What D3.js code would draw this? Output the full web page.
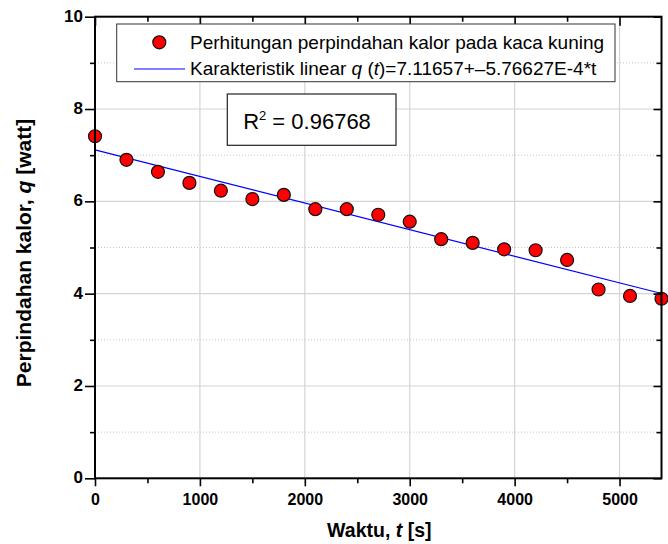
<!DOCTYPE html>
<html>
<head>
<meta charset="utf-8">
<script src="https://cdn.jsdelivr.net/npm/d3@7"></script>
<style>
  body { margin: 0; background: #fff; }
  svg { display: block; font-family: 'Liberation Sans', Arial, sans-serif; }
</style>
</head>
<body>
<script>
// waktu (s) dan perpindahan kalor (watt)
const times = [0, 300, 600, 900, 1200, 1500, 1800, 2100, 2400, 2700, 3000, 3300, 3600, 3900, 4200, 4500, 4800, 5100, 5400]
const heat = [7.41, 6.9, 6.64, 6.4, 6.23, 6.05, 6.14, 5.83, 5.83, 5.71, 5.56, 5.18, 5.1, 4.96, 4.94, 4.73, 4.09, 3.95, 3.89]

const fitA = 7.11657
const fitB = -5.76627E-4
const r2 = '0.96768'

const xMajor = [0, 1000, 2000, 3000, 4000, 5000]
const xMinor = [500, 1500, 2500, 3500, 4500]
const yMajor = [0, 2, 4, 6, 8, 10]
const yMinor = [1, 3, 5, 7, 9]

const W = 668
const H = 544
const pLeft = 95, pRight = 661.5, pTop = 16.7, pBottom = 478.3

const svg = d3.select('body').append('svg')
  .attr('width', W)
  .attr('height', H)

const x = d3.scaleLinear().domain([0, 5400]).range([pLeft, pRight])
const y = d3.scaleLinear().domain([0, 10]).range([pBottom, pTop])

// grid
const grid = svg.append('g')
grid.selectAll('.gx')
  .data(xMajor.filter(d => d > 0))
  .enter().append('line')
    .attr('x1', d => x(d)).attr('x2', d => x(d))
    .attr('y1', pTop).attr('y2', pBottom)
    .attr('stroke', '#d4d4d4').attr('stroke-width', 1.2)
grid.selectAll('.gy')
  .data(yMajor.filter(d => d > 0 && d < 10))
  .enter().append('line')
    .attr('x1', pLeft).attr('x2', pRight)
    .attr('y1', d => y(d)).attr('y2', d => y(d))
    .attr('stroke', '#d4d4d4').attr('stroke-width', 1.2)
grid.selectAll('.gym')
  .data(yMinor)
  .enter().append('line')
    .attr('x1', pLeft).attr('x2', pRight)
    .attr('y1', d => y(d)).attr('y2', d => y(d))
    .attr('stroke', '#c4c4c4').attr('stroke-width', 1)
    .attr('stroke-dasharray', '1,2')

// garis fit linear
const fitLine = d3.line()
  .x(d => x(d))
  .y(d => y(fitA + fitB * d))
svg.append('path')
  .datum([0, 5400])
  .attr('d', fitLine)
  .attr('fill', 'none')
  .attr('stroke', '#0000ff')
  .attr('stroke-width', 1.2)

// titik data
svg.append('g').selectAll('circle')
  .data(times)
  .enter().append('circle')
    .attr('cx', d => x(d))
    .attr('cy', (d, i) => y(heat[i]))
    .attr('r', 6.5)
    .attr('fill', '#ff0000')
    .attr('stroke', '#111')
    .attr('stroke-width', 1.2)

// axes
const axB = svg.append('g').attr('transform', 'translate(0,' + pBottom + ')')
axB.call(d3.axisBottom(x).tickValues(xMajor).tickSize(8).tickFormat(d3.format('d')))
axB.append('g').call(d3.axisBottom(x).tickValues(xMinor).tickSize(5).tickFormat(''))
axB.selectAll('text')
  .attr('y', 26.7).attr('dy', 0)
  .attr('font-size', 16).attr('font-weight', 'bold').attr('fill', '#000')

const axL = svg.append('g').attr('transform', 'translate(' + pLeft + ',0)')
axL.call(d3.axisLeft(y).tickValues(yMajor).tickSize(10))
axL.append('g').call(d3.axisLeft(y).tickValues(yMinor).tickSize(5).tickFormat(''))
axL.selectAll('text')
  .attr('x', -12).attr('dy', 4.5)
  .attr('font-size', 17).attr('font-weight', 'bold').attr('fill', '#000')

const axT = svg.append('g').attr('transform', 'translate(0,' + pTop + ')')
axT.call(d3.axisTop(x).tickValues(xMajor).tickSize(-9).tickFormat(''))
axT.append('g').call(d3.axisTop(x).tickValues(xMinor).tickSize(-5).tickFormat(''))

const axR = svg.append('g').attr('transform', 'translate(' + pRight + ',0)')
axR.call(d3.axisRight(y).tickValues(yMajor).tickSize(-8).tickFormat(''))
axR.append('g').call(d3.axisRight(y).tickValues(yMinor).tickSize(-5).tickFormat(''))

svg.selectAll('.domain').remove()
svg.selectAll('.tick line').attr('stroke', '#000').attr('stroke-width', 1.6)

svg.append('rect')
  .attr('x', pLeft).attr('y', pTop)
  .attr('width', pRight - pLeft).attr('height', pBottom - pTop)
  .attr('fill', 'none').attr('stroke', '#000').attr('stroke-width', 2)

// legend
const lg = svg.append('g')
lg.append('rect')
  .attr('x', 116.7).attr('y', 24)
  .attr('width', 498.3).attr('height', 57.7)
  .attr('fill', '#fff').attr('stroke', '#333').attr('stroke-width', 1)
lg.append('circle')
  .attr('cx', 159.3).attr('cy', 42.3).attr('r', 6.5)
  .attr('fill', '#ff0000').attr('stroke', '#111').attr('stroke-width', 1.2)
lg.append('text')
  .attr('x', 190).attr('y', 48.5)
  .attr('font-size', 19)
  .text('Perhitungan perpindahan kalor pada kaca kuning')
lg.append('line')
  .attr('x1', 134).attr('x2', 185).attr('y1', 69).attr('y2', 69)
  .attr('stroke', '#0000ff').attr('stroke-width', 1.2)
const t2 = lg.append('text')
  .attr('x', 190).attr('y', 75)
  .attr('font-size', 19)
t2.append('tspan').text('Karakteristik linear ')
t2.append('tspan').attr('font-style', 'italic').text('q')
t2.append('tspan').text(' (')
t2.append('tspan').attr('font-style', 'italic').text('t')
t2.append('tspan').text(')=' + fitA + '+–' + (-fitB * 1e4).toFixed(5) + 'E-4*t')

// kotak R^2
svg.append('rect')
  .attr('x', 227.3).attr('y', 94)
  .attr('width', 168.7).attr('height', 51.3)
  .attr('fill', '#fff').attr('stroke', '#222').attr('stroke-width', 1.2)
const rt = svg.append('text')
  .attr('x', 307).attr('y', 128.7)
  .attr('text-anchor', 'middle')
  .attr('font-size', 22)
rt.append('tspan').text('R')
rt.append('tspan').attr('font-size', 13).attr('dy', -9).text('2')
rt.append('tspan').attr('dy', 9).text(' = ' + r2)

// judul sumbu
const xt = svg.append('text')
  .attr('x', 379.3).attr('y', 536.7)
  .attr('text-anchor', 'middle')
  .attr('font-size', 19.5).attr('font-weight', 'bold')
xt.append('tspan').text('Waktu, ')
xt.append('tspan').attr('font-style', 'italic').text('t')
xt.append('tspan').text(' [s]')

const yt = svg.append('text')
  .attr('transform', 'translate(31,253) rotate(-90)')
  .attr('text-anchor', 'middle')
  .attr('font-size', 21).attr('font-weight', 'bold')
yt.append('tspan').text('Perpindahan kalor, ')
yt.append('tspan').attr('font-style', 'italic').text('q')
yt.append('tspan').text(' [watt]')
</script>
</body>
</html>
